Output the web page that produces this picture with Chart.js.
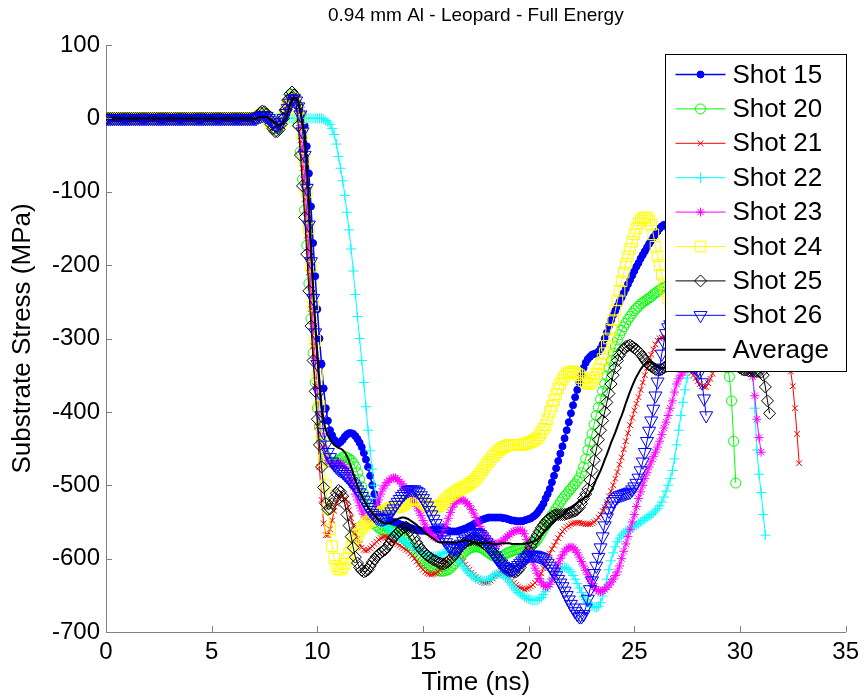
<!DOCTYPE html>
<html>
<head>
<meta charset="utf-8">
<title>0.94 mm Al - Leopard - Full Energy</title>
<script src="https://cdn.jsdelivr.net/npm/chart.js@4.4.0/dist/chart.umd.min.js"></script>
<style>
  html, body { margin: 0; padding: 0; background: #fff; }
  canvas { display: block; }
</style>
</head>
<body>
<canvas id="stressChart" width="865" height="700"></canvas>
<script>
// sample interval of the traces (ns), every array starts at t = 0
const timeStep = 0.1;

const chartTitle = "0.94 mm Al - Leopard - Full Energy";
const xTicks = [0, 5, 10, 15, 20, 25, 30, 35];
const yTicks = [100, 0, -100, -200, -300, -400, -500, -600, -700];

const seriesLabels = ["Shot 15", "Shot 20", "Shot 21", "Shot 22", "Shot 23", "Shot 24", "Shot 25", "Shot 26", "Average"];

// substrate stress (MPa), one value per timeStep, 20 values = 2 ns per line
const shot15 = [
  0,0,0,0,0,0,0,0,0,0, 0,0,0,0,0,0,0,0,0,0,
  0,0,0,0,0,0,0,0,0,0, 0,0,0,0,0,0,0,0,0,0,
  0,0,0,0,0,0,0,0,0,0, 0,0,0,0,0,0,0,0,0,0,
  0,0,0,0,0,0,0,0,0,0, 0,0,1,2,3,4,3,0,-3,-6,
  -8,-9,-8,-5,0,6,12,19,24,26, 25,21,15,5,-10,-38,-75,-120,-170,-215,
  -260,-300,-335,-368,-395,-412,-425,-432,-438,-441, -443,-441,-438,-434,-431,-429,-429,-430,-433,-437,
  -442,-448,-456,-465,-475,-487,-500,-512,-522,-531, -538,-543,-546,-547,-548,-549,-550,-551,-552,-553,
  -554,-555,-556,-557,-558,-559,-560,-561,-561,-562, -562,-562,-562,-562,-561,-561,-560,-560,-560,-560,
  -561,-561,-562,-563,-563,-563,-563,-562,-561,-560, -559,-558,-556,-555,-553,-552,-550,-548,-547,-546,
  -545,-544,-544,-544,-544,-544,-544,-544,-545,-545, -546,-547,-548,-548,-549,-549,-549,-549,-548,-547,
  -546,-545,-543,-541,-538,-534,-530,-525,-518,-512, -505,-496,-487,-477,-467,-457,-447,-436,-425,-414,
  -402,-391,-380,-370,-360,-350,-340,-333,-328,-325, -322,-321,-320,-318,-314,-308,-300,-292,-283,-275,
  -268,-262,-256,-250,-244,-238,-232,-226,-220,-214, -208,-202,-197,-191,-186,-181,-176,-171,-167,-162,
  -158,-154,-150,-147,-145,-146,-150,-157,-165
];
const shot20 = [
  0,0,0,0,0,0,0,0,0,0, 0,0,0,0,0,0,0,0,0,0,
  0,0,0,0,0,0,0,0,0,0, 0,0,0,0,0,0,0,0,0,0,
  0,0,0,0,0,0,0,0,0,0, 0,0,0,0,0,0,0,0,0,0,
  0,0,0,0,0,0,0,0,0,0, 0,0,3,5,7,7,5,0,-5,-10,
  -14,-14,-12,-6,2,12,22,29,33,31, 20,-8,-45,-83,-125,-173,-225,-273,-320,-360,
  -395,-420,-440,-452,-460,-465,-468,-469,-470,-468, -466,-464,-462,-461,-462,-464,-466,-470,-475,-483,
  -492,-502,-512,-521,-530,-538,-545,-551,-555,-558, -560,-561,-562,-562,-562,-562,-563,-564,-566,-568,
  -570,-572,-575,-578,-582,-586,-590,-594,-597,-600, -603,-606,-608,-610,-612,-614,-615,-616,-617,-617,
  -617,-616,-615,-613,-610,-607,-603,-600,-596,-593, -590,-588,-586,-585,-584,-584,-584,-585,-586,-588,
  -590,-592,-594,-596,-597,-598,-598,-597,-596,-594, -592,-591,-590,-589,-588,-587,-587,-586,-585,-583,
  -582,-581,-580,-578,-575,-570,-565,-560,-555,-550, -545,-541,-537,-532,-528,-523,-519,-515,-512,-508,
  -505,-501,-498,-494,-490,-483,-475,-464,-452,-441, -430,-417,-405,-394,-383,-372,-362,-351,-340,-330,
  -320,-311,-302,-295,-289,-284,-279,-274,-270,-266, -262,-259,-256,-253,-251,-249,-247,-245,-243,-240,
  -238,-236,-234,-232,-230,-229,-228,-229,-230,-233, -236,-240,-245,-250,-255,-261,-268,-274,-280,-286,
  -292,-297,-302,-306,-310,-314,-318,-322,-325,-328, -330,-333,-335,-338,-340,-352,-385,-440,-497
];
const shot21 = [
  0,0,0,0,0,0,0,0,0,0, 0,0,0,0,0,0,0,0,0,0,
  0,0,0,0,0,0,0,0,0,0, 0,0,0,0,0,0,0,0,0,0,
  0,0,0,0,0,0,0,0,0,0, 0,0,0,0,0,0,0,0,0,0,
  0,0,0,0,0,0,0,0,0,0, 0,0,2,4,6,6,4,0,-4,-8,
  -12,-12,-10,-5,2,10,20,28,32,30, 22,0,-30,-68,-110,-160,-210,-260,-310,-365,
  -420,-475,-520,-552,-568,-568,-560,-548,-535,-525, -518,-515,-515,-518,-525,-534,-545,-555,-565,-573,
  -580,-585,-588,-589,-588,-586,-583,-580,-577,-574, -572,-571,-570,-571,-572,-574,-576,-578,-580,-582,
  -584,-586,-588,-590,-593,-596,-600,-604,-608,-612, -615,-618,-620,-621,-622,-621,-620,-618,-615,-612,
  -608,-604,-600,-597,-595,-594,-595,-597,-600,-604, -608,-612,-615,-619,-622,-625,-628,-630,-632,-633,
  -633,-632,-630,-627,-624,-622,-620,-620,-620,-622, -624,-627,-630,-633,-636,-638,-640,-641,-642,-641,
  -640,-638,-636,-633,-630,-625,-620,-613,-606,-599, -593,-587,-582,-577,-572,-567,-563,-560,-557,-555,
  -553,-552,-551,-551,-551,-552,-552,-553,-553,-553, -552,-550,-548,-544,-540,-535,-530,-523,-515,-508,
  -500,-491,-482,-472,-462,-451,-440,-429,-418,-408, -398,-389,-380,-370,-360,-350,-340,-331,-322,-315,
  -308,-303,-300,-299,-298,-299,-300,-302,-305,-310, -315,-320,-325,-330,-335,-339,-343,-347,-350,-354,
  -358,-362,-365,-366,-366,-361,-355,-348,-342,-336, -330,-325,-320,-317,-315,-312,-310,-307,-305,-302,
  -300,-299,-298,-298,-298,-299,-300,-301,-303,-305, -308,-310,-312,-315,-318,-320,-322,-324,-326,-328,
  -330,-333,-336,-340,-345,-365,-395,-430,-470
];
const shot22 = [
  0,0,0,0,0,0,0,0,0,0, 0,0,0,0,0,0,0,0,0,0,
  0,0,0,0,0,0,0,0,0,0, 0,0,0,0,0,0,0,0,0,0,
  0,0,0,0,0,0,0,0,0,0, 0,0,0,0,0,0,0,0,0,0,
  0,0,0,0,0,0,0,0,0,0, 0,0,0,0,0,0,0,0,0,0,
  0,0,0,0,0,0,0,0,0,0, 0,0,0,0,0,0,0,0,0,0,
  0,0,0,-1,-3,-5,-8,-14,-22,-35, -52,-68,-85,-105,-128,-152,-178,-208,-240,-270,
  -300,-330,-360,-393,-425,-453,-478,-500,-518,-530, -540,-547,-553,-557,-560,-563,-565,-568,-570,-572,
  -574,-576,-578,-580,-582,-584,-585,-587,-588,-590, -592,-594,-595,-596,-597,-597,-597,-596,-595,-593,
  -592,-591,-590,-590,-592,-595,-598,-602,-606,-610, -614,-617,-620,-623,-625,-627,-628,-629,-630,-630,
  -630,-629,-627,-624,-622,-621,-620,-621,-622,-625, -628,-632,-636,-640,-643,-646,-648,-650,-652,-654,
  -655,-656,-657,-657,-657,-655,-653,-649,-645,-639, -633,-627,-622,-618,-615,-613,-612,-612,-613,-615,
  -618,-623,-628,-634,-640,-646,-652,-656,-660,-663, -665,-666,-667,-665,-660,-651,-640,-628,-615,-603,
  -592,-584,-577,-572,-568,-565,-563,-561,-560,-558, -556,-554,-552,-550,-548,-546,-544,-542,-540,-538,
  -535,-532,-528,-523,-516,-508,-500,-491,-480,-464, -445,-425,-405,-387,-370,-354,-340,-329,-320,-312,
  -305,-300,-295,-292,-290,-289,-288,-289,-290,-292, -295,-297,-300,-304,-308,-311,-315,-318,-322,-325,
  -328,-330,-333,-336,-338,-341,-347,-395,-452,-485, -510,-540,-568
];
const shot23 = [
  0,0,0,0,0,0,0,0,0,0, 0,0,0,0,0,0,0,0,0,0,
  0,0,0,0,0,0,0,0,0,0, 0,0,0,0,0,0,0,0,0,0,
  0,0,0,0,0,0,0,0,0,0, 0,0,0,0,0,0,0,0,0,0,
  0,0,0,0,0,0,0,0,0,0, 0,0,2,4,5,5,4,0,-4,-8,
  -10,-10,-9,-4,2,10,18,25,30,29, 24,10,-10,-42,-80,-128,-180,-230,-280,-327,
  -370,-403,-430,-448,-460,-466,-470,-471,-472,-471, -470,-470,-472,-475,-480,-487,-495,-503,-512,-520,
  -528,-535,-540,-543,-545,-544,-540,-535,-528,-520, -512,-505,-500,-496,-493,-491,-490,-490,-492,-495,
  -498,-502,-506,-510,-515,-519,-524,-529,-535,-541, -548,-554,-560,-564,-568,-570,-572,-572,-570,-566,
  -560,-553,-545,-537,-530,-525,-522,-520,-520,-520, -522,-525,-528,-533,-538,-544,-550,-556,-562,-567,
  -572,-575,-578,-579,-580,-580,-579,-577,-575,-572, -570,-567,-565,-563,-562,-561,-561,-562,-566,-574,
  -585,-595,-605,-613,-620,-627,-632,-636,-638,-638, -635,-629,-622,-614,-607,-600,-595,-590,-587,-585,
  -584,-585,-588,-592,-598,-604,-610,-616,-622,-628, -634,-638,-642,-644,-645,-644,-642,-639,-636,-632,
  -628,-623,-618,-610,-600,-590,-580,-570,-560,-550, -540,-529,-518,-509,-500,-491,-483,-475,-468,-461,
  -455,-448,-440,-431,-422,-414,-405,-395,-385,-373, -362,-355,-350,-346,-342,-338,-335,-330,-325,-321,
  -318,-315,-312,-310,-308,-306,-305,-305,-305,-306, -308,-310,-312,-315,-318,-320,-322,-325,-328,-330,
  -333,-336,-338,-340,-342,-345,-352,-378,-410,-435, -455
];
const shot24 = [
  0,0,0,0,0,0,0,0,0,0, 0,0,0,0,0,0,0,0,0,0,
  0,0,0,0,0,0,0,0,0,0, 0,0,0,0,0,0,0,0,0,0,
  0,0,0,0,0,0,0,0,0,0, 0,0,0,0,0,0,0,0,0,0,
  0,0,0,0,0,0,0,0,0,0, 0,0,2,4,5,5,3,-1,-5,-8,
  -10,-10,-8,-4,2,10,18,24,28,27, 22,13,0,-22,-55,-100,-150,-202,-255,-303,
  -350,-392,-430,-466,-500,-532,-560,-583,-600,-610, -614,-615,-612,-607,-600,-593,-585,-578,-572,-567,
  -562,-558,-555,-552,-550,-547,-545,-543,-541,-539, -538,-536,-535,-533,-532,-531,-530,-530,-530,-529,
  -528,-526,-524,-522,-520,-519,-518,-519,-520,-522, -524,-526,-528,-529,-530,-530,-530,-529,-528,-525,
  -522,-519,-516,-514,-512,-510,-508,-506,-505,-503, -502,-500,-498,-496,-494,-491,-488,-484,-480,-476,
  -472,-468,-465,-461,-458,-455,-452,-450,-448,-447, -446,-445,-445,-445,-445,-445,-445,-445,-444,-443,
  -442,-441,-440,-438,-436,-432,-428,-423,-418,-410, -400,-392,-384,-376,-368,-362,-356,-352,-348,-346,
  -345,-345,-346,-348,-350,-354,-358,-360,-362,-361, -358,-353,-348,-342,-335,-328,-320,-310,-300,-288,
  -275,-262,-248,-235,-222,-210,-198,-188,-178,-168, -158,-150,-143,-139,-136,-135,-135,-139,-145,-158,
  -175,-188,-200,-213,-225,-235,-245,-253,-260,-265, -270,-273,-275,-273,-270
];
const shot25 = [
  0,0,0,0,0,0,0,0,0,0, 0,0,0,0,0,0,0,0,0,0,
  0,0,0,0,0,0,0,0,0,0, 0,0,0,0,0,0,0,0,0,0,
  0,0,0,0,0,0,0,0,0,0, 0,0,0,0,0,0,0,0,0,0,
  0,0,0,0,0,0,0,0,0,0, 0,0,4,8,10,9,6,-1,-8,-14,
  -18,-18,-15,-8,0,12,25,33,36,32, 20,-10,-50,-92,-135,-185,-235,-283,-330,-372,
  -410,-445,-475,-503,-525,-533,-532,-525,-518,-511, -507,-509,-515,-526,-540,-555,-570,-585,-598,-606,
  -612,-616,-618,-617,-615,-610,-605,-601,-597,-594, -592,-590,-588,-584,-580,-575,-571,-568,-565,-562,
  -560,-558,-557,-559,-562,-567,-572,-578,-583,-587, -590,-593,-596,-598,-600,-602,-603,-605,-606,-607,
  -607,-606,-604,-601,-598,-594,-590,-586,-583,-580, -578,-576,-575,-574,-574,-574,-575,-576,-578,-580,
  -582,-585,-588,-591,-595,-598,-602,-605,-608,-611, -613,-615,-617,-618,-618,-616,-612,-606,-600,-595,
  -590,-584,-578,-573,-568,-563,-558,-554,-550,-547, -545,-543,-541,-540,-540,-540,-540,-540,-539,-538,
  -537,-536,-535,-533,-530,-525,-518,-512,-505,-493, -480,-466,-452,-438,-425,-412,-400,-387,-375,-362,
  -350,-340,-330,-323,-318,-314,-311,-310,-309,-311, -313,-315,-318,-321,-325,-329,-333,-336,-338,-340,
  -342,-343,-343,-342,-340,-338,-335,-333,-330,-326, -322,-318,-315,-313,-312,-313,-315,-317,-320,-322,
  -325,-328,-330,-332,-333,-334,-335,-335,-335,-334, -333,-332,-330,-329,-328,-329,-330,-332,-335,-338,
  -340,-342,-343,-343,-344,-344,-344,-345,-345,-345, -346,-350,-366,-385,-402
];
const shot26 = [
  0,0,0,0,0,0,0,0,0,0, 0,0,0,0,0,0,0,0,0,0,
  0,0,0,0,0,0,0,0,0,0, 0,0,0,0,0,0,0,0,0,0,
  0,0,0,0,0,0,0,0,0,0, 0,0,0,0,0,0,0,0,0,0,
  0,0,0,0,0,0,0,0,0,0, 0,0,2,3,4,4,3,0,-3,-6,
  -9,-10,-9,-5,0,7,14,21,26,27, 24,16,5,-18,-50,-95,-145,-195,-245,-292,
  -335,-373,-405,-428,-445,-455,-462,-468,-472,-475, -478,-480,-482,-485,-488,-491,-495,-498,-502,-506,
  -510,-515,-520,-525,-530,-534,-538,-541,-544,-545, -546,-546,-545,-543,-540,-536,-532,-527,-523,-519,
  -515,-512,-509,-507,-506,-506,-506,-508,-510,-514, -518,-523,-528,-534,-540,-546,-552,-558,-564,-569,
  -574,-578,-582,-584,-586,-586,-585,-583,-580,-576, -573,-570,-567,-565,-564,-564,-565,-567,-570,-574,
  -578,-582,-587,-591,-596,-600,-604,-607,-610,-612, -614,-615,-615,-614,-612,-609,-606,-603,-600,-598,
  -596,-595,-595,-595,-596,-597,-598,-600,-603,-606, -610,-614,-618,-623,-628,-633,-638,-644,-650,-656,
  -662,-667,-672,-676,-679,-679,-676,-667,-655,-642, -630,-620,-610,-598,-585,-570,-555,-544,-535,-528,
  -522,-519,-516,-514,-513,-512,-511,-510,-509,-506, -502,-497,-490,-480,-468,-455,-440,-426,-412,-396,
  -378,-359,-340,-321,-305,-293,-285,-281,-280,-282, -285,-292,-300,-310,-320,-328,-335,-337,-338,-340,
  -343,-345,-360,-382,-405
];
const average = [
  0,0,0,0,0,0,0,0,0,0, 0,0,0,0,0,0,0,0,0,0,
  0,0,0,0,0,0,0,0,0,0, 0,0,0,0,0,0,0,0,0,0,
  0,0,0,0,0,0,0,0,0,0, 0,0,0,0,0,0,0,0,0,0,
  0,0,0,0,0,0,0,0,0,0, 0,0,1,2,2,2,2,0,-2,-4,
  -6,-8,-10,-8,-6,0,8,17,25,28, 28,22,10,-6,-25,-62,-112,-170,-230,-278,
  -320,-358,-392,-412,-425,-432,-438,-442,-445,-447, -449,-450,-452,-455,-460,-467,-475,-484,-493,-501,
  -508,-514,-520,-525,-530,-534,-538,-541,-544,-547, -549,-551,-552,-552,-552,-551,-549,-547,-546,-545,
  -544,-544,-545,-546,-548,-550,-552,-554,-557,-560, -562,-565,-567,-569,-571,-573,-575,-577,-578,-578,
  -578,-578,-578,-578,-578,-578,-578,-577,-577,-576, -575,-575,-576,-577,-578,-578,-579,-579,-579,-579,
  -579,-579,-579,-580,-580,-580,-580,-579,-579,-579, -579,-579,-580,-580,-580,-580,-580,-580,-580,-579,
  -579,-578,-577,-576,-574,-571,-568,-565,-562,-559, -556,-553,-550,-547,-545,-543,-541,-538,-535,-532,
  -530,-528,-526,-524,-522,-520,-518,-516,-515,-510, -505,-499,-492,-486,-480,-473,-465,-458,-450,-442,
  -435,-428,-420,-412,-405,-397,-388,-380,-372,-365, -358,-352,-347,-342,-338,-335,-332,-332,-333,-335,
  -337,-339,-340,-340,-340,-339,-338,-337,-335
];

const seriesValues = [shot15, shot20, shot21, shot22, shot23, shot24, shot25, shot26, average];

// matlab style line specs: b.-  go-  rx-  c+-  m*-  ys-  kd-  bv-  k-
const seriesStyles = [
  { color: "#0000ff", marker: "circle",   radius: 3.5, filled: true, width: 1.5 },
  { color: "#00ff00", marker: "circle",   radius: 5,   width: 1 },
  { color: "#ff0000", marker: "crossRot", radius: 4,   width: 1 },
  { color: "#00ffff", marker: "cross",    radius: 5,   width: 1 },
  { color: "#ff00ff", marker: "star",     radius: 4.5, width: 1 },
  { color: "#ffff00", marker: "rect",     radius: 7.5, width: 1 },
  { color: "#000000", marker: "rectRot",  radius: 6,   width: 1 },
  { color: "#0000ff", marker: "triangle", radius: 7.5, rotation: 180, width: 1 },
  { color: "#000000", marker: "circle",   radius: 0,   width: 2 }
];

const fontFamily = '"Liberation Sans", Arial, Helvetica, sans-serif';
Chart.defaults.font.family = fontFamily;
Chart.defaults.color = "#000";

const datasets = seriesValues.map((values, i) => {
  const st = seriesStyles[i];
  return {
    label: seriesLabels[i],
    data: values.map((v, k) => ({ x: k * timeStep, y: v })),
    borderColor: st.color,
    borderWidth: st.width,
    pointStyle: st.marker,
    pointRadius: st.radius,
    pointRotation: st.rotation || 0,
    pointBorderColor: st.color,
    pointBackgroundColor: st.filled ? st.color : "rgba(0,0,0,0)",
    pointBorderWidth: 1,
    tension: 0,
    fill: false,
    order: seriesValues.length - 1 - i   // later series drawn on top, like matlab
  };
});

// ticks pointing inwards, title, and the boxed legend in the upper right corner
const matlabLook = {
  id: "matlabLook",
  afterDraw(chart) {
    const { ctx, chartArea: area, scales: { x, y } } = chart;
    ctx.save();

    ctx.strokeStyle = "#808080";
    ctx.lineWidth = 1;
    ctx.beginPath();
    xTicks.forEach(v => {
      const px = Math.round(x.getPixelForValue(v)) + 0.5;
      ctx.moveTo(px, area.bottom);
      ctx.lineTo(px, area.bottom - 6);
    });
    yTicks.forEach(v => {
      const py = Math.round(y.getPixelForValue(v)) + 0.5;
      ctx.moveTo(area.left, py);
      ctx.lineTo(area.left + 6, py);
    });
    ctx.stroke();

    ctx.fillStyle = "#000";
    ctx.font = "19px " + fontFamily;
    ctx.textAlign = "center";
    ctx.textBaseline = "middle";
    ctx.fillText(chartTitle, (area.left + area.right) / 2, 16);

    const boxW = 181, boxH = 317;
    const left = Math.round(area.right - boxW) + 0.5;
    const top = Math.round(area.top + 9) + 0.5;
    ctx.fillStyle = "#fff";
    ctx.fillRect(left, top, boxW, boxH);
    ctx.strokeStyle = "#000";
    ctx.lineWidth = 1;
    ctx.strokeRect(left, top, boxW, boxH);

    ctx.font = "26px " + fontFamily;
    ctx.textAlign = "left";
    chart.data.datasets.forEach((ds, i) => {
      const st = seriesStyles[i];
      const rowY = top + 20 + i * 34.4;
      ctx.strokeStyle = st.color;
      ctx.lineWidth = st.width;
      ctx.beginPath();
      ctx.moveTo(left + 10, rowY);
      ctx.lineTo(left + 60, rowY);
      ctx.stroke();
      if (st.radius > 0) {
        ctx.fillStyle = st.filled ? st.color : "rgba(0,0,0,0)";
        ctx.lineWidth = 1;
        Chart.helpers.drawPoint(ctx, {
          pointStyle: st.marker,
          radius: st.radius,
          rotation: st.rotation || 0,
          borderWidth: 1
        }, left + 35, rowY);
      }
      ctx.fillStyle = "#000";
      ctx.fillText(ds.label, left + 67, rowY + 1);
    });
    ctx.restore();
  }
};

new Chart(document.getElementById("stressChart"), {
  type: "line",
  data: { datasets },
  options: {
    responsive: false,
    devicePixelRatio: 1,
    animation: false,
    events: [],
    layout: { padding: { top: 45, right: 16, bottom: 0, left: 0 } },
    plugins: {
      legend: { display: false },
      title: { display: false },
      tooltip: { enabled: false }
    },
    scales: {
      x: {
        type: "linear",
        min: 0,
        max: 35,
        afterBuildTicks: s => { s.ticks = xTicks.map(v => ({ value: v })); },
        afterFit: s => { s.height = 68; },
        grid: { display: false, drawTicks: false },
        border: { display: true, color: "#808080", width: 1 },
        ticks: { font: { size: 24 }, color: "#000", padding: 6, maxRotation: 0, callback: v => String(v) },
        title: { display: true, text: "Time (ns)", font: { size: 26 }, padding: { top: 0, bottom: 2 } }
      },
      y: {
        type: "linear",
        min: -700,
        max: 100,
        afterBuildTicks: s => { s.ticks = yTicks.map(v => ({ value: v })); },
        afterFit: s => { s.width = 106; },
        grid: { display: false, drawTicks: false },
        border: { display: true, color: "#808080", width: 1 },
        ticks: { font: { size: 24 }, color: "#000", padding: 6, callback: v => String(v) },
        title: { display: true, text: "Substrate Stress (MPa)", font: { size: 26 }, padding: { top: 7, bottom: 0 } }
      }
    }
  },
  plugins: [matlabLook]
});
</script>
</body>
</html>
